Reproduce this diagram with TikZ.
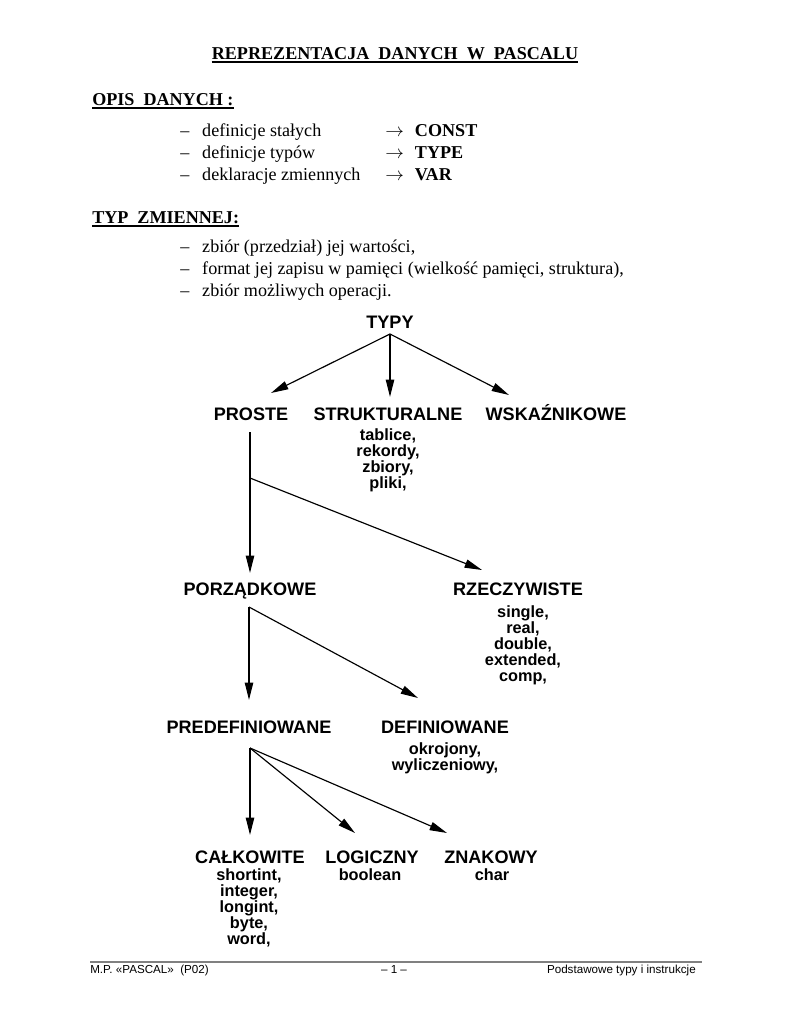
\documentclass[tikz,border=0pt]{standalone}
\usepackage{fontspec}
\setmainfont{Liberation Serif}
\setsansfont{Liberation Sans}
\usetikzlibrary{arrows.meta, positioning}

\newcommand{\itemdash}{\makebox[17pt][l]{–}}
\newcommand{\toarrow}{\makebox[23pt][l]{$\rightarrow$}}

\begin{document}
\begin{tikzpicture}[
        x=0.7737pt, y=-0.7737pt,
        head/.style={font=\fontsize{14}{16}\selectfont\bfseries, inner sep=0pt, anchor=base west},
        item/.style={font=\fontsize{14}{16}\selectfont, inner sep=0pt, anchor=base west},
        kw/.style={font=\fontsize{14}{16}\selectfont\bfseries, inner sep=0pt, anchor=base west},
        typ/.style={font=\sffamily\bfseries\fontsize{14}{16}\selectfont, inner sep=0pt, anchor=base},
        lst/.style={font=\sffamily\bfseries\fontsize{12.6}{12.4}\selectfont, inner sep=0pt, anchor=north, align=center},
        arr/.style={-{Triangle[length=13.5pt, width=6.5pt]}, line width=0.9pt},
        uline/.style={line width=1.1pt},
        rule/.style={line width=0.8pt, gray},
        foot/.style={font=\sffamily\fontsize{9}{11}\selectfont, inner sep=0pt, anchor=base},
    ]
        \useasboundingbox (0,0) rectangle (791,1024);

        % Header text
        \node[head, anchor=base] (title) at (395,59) {REPREZENTACJA\ \ DANYCH\ \ W\ \ PASCALU};
        \draw[uline] ([yshift=-2.4pt]title.base west) -- ([yshift=-2.4pt]title.base east);

        \node[head] (opis) at (92,105) {OPIS\ \ DANYCH :};
        \draw[uline] ([yshift=-2.4pt]opis.base west) -- ([yshift=-2.4pt]opis.base east);
        \node[item] (opis1) at (180,136) {\itemdash definicje stałych};
        \node[item] (opis2) at (180,158) {\itemdash definicje typów};
        \node[item] (opis3) at (180,180.5) {\itemdash deklaracje zmiennych};
        \node[kw] (kwconst) at (385,136) {\toarrow CONST};
        \node[kw] (kwtype) at (385,158) {\toarrow TYPE};
        \node[kw] (kwvar) at (385,180.5) {\toarrow VAR};

        \node[head] (typz) at (92,223) {TYP\ \ ZMIENNEJ:};
        \draw[uline] ([yshift=-2.4pt]typz.base west) -- ([yshift=-2.4pt]typz.base east);
        \node[item] (typz1) at (180,252) {\itemdash zbiór (przedział) jej wartości,};
        \node[item] (typz2) at (180,274) {\itemdash format jej zapisu w pamięci (wielkość pamięci, struktura),};
        \node[item] (typz3) at (180,296) {\itemdash zbiór możliwych operacji.};

        % Tree of types
        \node[typ] (typy) at (390,328) {TYPY};
        \node[typ] (proste) at (251,420) {PROSTE};
        \node[typ] (strukt) at (388,420) {STRUKTURALNE};
        \node[typ] (wskaz) at (556,420) {WSKAŹNIKOWE};
        \node[lst] (struktL) at (388,428) {tablice,\\rekordy,\\zbiory,\\pliki,};

        \node[typ] (porz) at (250,595) {PORZĄDKOWE};
        \node[typ] (rzecz) at (518,595) {RZECZYWISTE};
        \node[lst] (rzeczL) at (523,605) {single,\\real,\\double,\\extended,\\comp,};

        \node[typ] (predef) at (249,733) {PREDEFINIOWANE};
        \node[typ] (defin) at (445,733) {DEFINIOWANE};
        \node[lst] (definL) at (445,742) {okrojony,\\wyliczeniowy,};

        \node[typ] (calk) at (250,863) {CAŁKOWITE};
        \node[typ] (logicz) at (372,863) {LOGICZNY};
        \node[typ] (znak) at (491,863) {ZNAKOWY};
        \node[lst] (calkL) at (249,868) {shortint,\\integer,\\longint,\\byte,\\word,};
        \node[lst] (logiczL) at (370,868) {boolean};
        \node[lst] (znakL) at (492,868) {char};

        % Branch points and arrow ends
        \coordinate (typyOut) at (390,334);
        \coordinate (prosteIn) at (271,393);
        \coordinate (struktIn) at (390,397);
        \coordinate (wskazIn) at (509,395);
        \coordinate (prosteOut) at (250,432);
        \coordinate (prosteJ) at (250,478);
        \coordinate (porzIn) at (250,573);
        \coordinate (rzeczIn) at (482,570);
        \coordinate (porzOut) at (249,607);
        \coordinate (predefIn) at (249,700);
        \coordinate (definIn) at (418,698);
        \coordinate (predefOut) at (250,748);
        \coordinate (calkIn) at (250,835);
        \coordinate (logiczIn) at (355,833);
        \coordinate (znakIn) at (447,833);

        % Arrows
        \draw[arr] (typyOut) -- (prosteIn);
        \draw[arr] (typyOut) -- (struktIn);
        \draw[arr] (typyOut) -- (wskazIn);
        \draw[arr] (prosteOut) -- (porzIn);
        \draw[arr] (prosteJ) -- (rzeczIn);
        \draw[arr] (porzOut) -- (predefIn);
        \draw[arr] (porzOut) -- (definIn);
        \draw[arr] (predefOut) -- (calkIn);
        \draw[arr] (predefOut) -- (logiczIn);
        \draw[arr] (predefOut) -- (znakIn);

        % Footer
        \draw[rule] (90,962) -- (702,962);
        \node[foot, anchor=base west] (footL) at (90,973) {M.P. «PASCAL»\ \ (P02)};
        \node[foot] (footC) at (394,973) {– 1 –};
        \node[foot, anchor=base east] (footR) at (696,973) {Podstawowe typy i instrukcje};
    \end{tikzpicture}
\end{document}
